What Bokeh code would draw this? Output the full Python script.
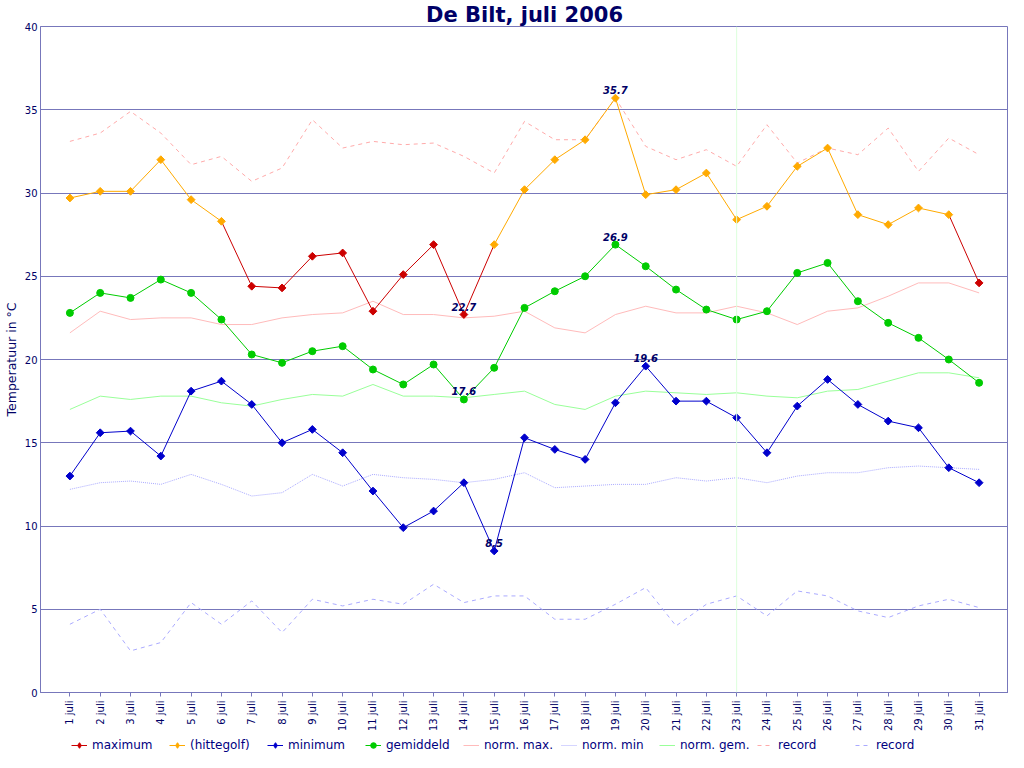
import math
from bokeh.plotting import figure
from bokeh.layouts import column
from bokeh.models import (FixedTicker, Legend, LegendItem, Span, Range1d)
from bokeh.core.properties import value
from bokeh.embed import file_html
from bokeh.resources import INLINE

# ---------------- data ----------------
days = list(range(1, 32))
day_labels = [f"{d} juli" for d in days]
tmax = [29.7, 30.1, 30.1, 32.0, 29.6, 28.3, 24.4, 24.3, 26.2, 26.4, 22.9, 25.1, 26.9, 22.7, 26.9,
        30.2, 32.0, 33.2, 35.7, 29.9, 30.2, 31.2, 28.4, 29.2, 31.6, 32.7, 28.7, 28.1, 29.1, 28.7, 24.6]
hittegolf = [True, True, True, True, True, True,
             False, False, False, False, False, False, False, False,
             True, True, True, True, True, True, True, True, True, True, True, True, True, True, True, True,
             False]
tmin = [13.0, 15.6, 15.7, 14.2, 18.1, 18.7, 17.3, 15.0, 15.8, 14.4, 12.1, 9.9, 10.9, 12.6, 8.5,
        15.3, 14.6, 14.0, 17.4, 19.6, 17.5, 17.5, 16.5, 14.4, 17.2, 18.8, 17.3, 16.3, 15.9, 13.5, 12.6]
tmean = [22.8, 24.0, 23.7, 24.8, 24.0, 22.4, 20.3, 19.8, 20.5, 20.8, 19.4, 18.5, 19.7, 17.6, 19.5,
         23.1, 24.1, 25.0, 26.9, 25.6, 24.2, 23.0, 22.4, 22.9, 25.2, 25.8, 23.5, 22.2, 21.3, 20.0, 18.6]
norm_max = [21.6, 22.9, 22.4, 22.5, 22.5, 22.1, 22.1, 22.5, 22.7, 22.8, 23.5, 22.7, 22.7, 22.5, 22.6,
            22.9, 21.9, 21.6, 22.7, 23.2, 22.8, 22.8, 23.2, 22.8, 22.1, 22.9, 23.1, 23.8, 24.6, 24.6, 24.0]
norm_min = [12.2, 12.6, 12.7, 12.5, 13.1, 12.5, 11.8, 12.0, 13.1, 12.4, 13.1, 12.9, 12.8, 12.6, 12.8,
            13.2, 12.3, 12.4, 12.5, 12.5, 12.9, 12.7, 12.9, 12.6, 13.0, 13.2, 13.2, 13.5, 13.6, 13.5, 13.4]
norm_mean = [17.0, 17.8, 17.6, 17.8, 17.8, 17.4, 17.2, 17.6, 17.9, 17.8, 18.5, 17.8, 17.8, 17.7, 17.9,
             18.1, 17.3, 17.0, 17.8, 18.1, 18.0, 17.9, 18.0, 17.8, 17.7, 18.1, 18.2, 18.7, 19.2, 19.2, 18.9]
rec_max = [33.1, 33.6, 34.9, 33.6, 31.7, 32.2, 30.7, 31.5, 34.4, 32.7, 33.1, 32.9, 33.0, 32.2, 31.2,
           34.3, 33.2, 33.2, 35.7, 32.8, 32.0, 32.6, 31.6, 34.1, 31.8, 32.7, 32.3, 33.9, 31.3, 33.3, 32.3]
rec_min = [4.1, 5.0, 2.5, 3.0, 5.4, 4.1, 5.5, 3.6, 5.6, 5.2, 5.6, 5.3, 6.5, 5.4, 5.8,
           5.8, 4.4, 4.4, 5.3, 6.3, 4.0, 5.3, 5.8, 4.6, 6.1, 5.8, 4.9, 4.5, 5.2, 5.6, 5.1]
today_marker = [23]
y_ticks = [0, 5, 10, 15, 20, 25, 30, 35, 40]

# ---------------- style ----------------
NAVY = "#000066"
AXIS = "#7777bb"
RED = "#cc0000"
ORANGE = "#ffaa00"
BLUE = "#0000cc"
GREEN = "#00cc00"
FONT = "DejaVu Sans"
REC_MAX_STYLE = dict(line_color="#ffaaaa", line_width=1, line_dash="4 4")
REC_MIN_STYLE = dict(line_color="#aaaaff", line_width=1, line_dash="4 4")
NMAX_STYLE = dict(line_color="#ffbbbb", line_width=1)
NMIN_STYLE = dict(line_color="#aaaaff", line_width=1, line_dash="1 1")
NMEAN_STYLE = dict(line_color="#99ff99", line_width=1)

p = figure(width=1008, height=734, output_backend="svg", toolbar_location=None,
           x_range=Range1d(0.03, 31.97), y_range=Range1d(0, 40),
           min_border_left=2, min_border_right=0, min_border_top=0, min_border_bottom=0)

p.title.text = "De Bilt, juli 2006"
p.title.align = "center"
p.title.text_font = FONT
p.title.text_font_size = "21px"
p.title.text_font_style = "bold"
p.title.text_color = NAVY
p.title.standoff = 0
p.title.offset = 0

p.background_fill_color = "white"
p.border_fill_color = "white"
p.outline_line_color = AXIS
p.outline_line_width = 1

p.xgrid.visible = False
p.ygrid.grid_line_color = AXIS
p.ygrid.grid_line_width = 1
p.ygrid.ticker = FixedTicker(ticks=y_ticks)

p.xaxis.ticker = FixedTicker(ticks=days)
p.xaxis.major_label_overrides = {d: lab for d, lab in zip(days, day_labels)}
p.xaxis.major_label_orientation = math.pi / 2
p.yaxis.ticker = FixedTicker(ticks=y_ticks)

for ax in (p.xaxis[0], p.yaxis[0]):
    ax.axis_line_color = AXIS
    ax.major_tick_line_color = AXIS
    ax.minor_tick_line_color = None
    ax.major_label_text_font = FONT
    ax.major_label_text_font_size = "10px"
    ax.major_label_text_color = NAVY
    ax.major_tick_in = 0
p.xaxis.major_tick_out = 4
p.xaxis.major_label_standoff = 4
p.yaxis.major_tick_out = 0
p.yaxis.major_label_standoff = 3
p.yaxis.axis_label = "Temperatuur in °C"
p.yaxis.axis_label_text_font = FONT
p.yaxis.axis_label_text_font_size = "12.5px"
p.yaxis.axis_label_text_font_style = "normal"
p.yaxis.axis_label_text_color = NAVY
p.yaxis.axis_label_standoff = 3

# faint vertical marker
for d in today_marker:
    p.add_layout(Span(location=d, dimension="height", line_color="#ddffdd", line_width=1))

# reference lines
p.line(days, rec_max, **REC_MAX_STYLE)
p.line(days, rec_min, **REC_MIN_STYLE)
p.line(days, norm_max, **NMAX_STYLE)
p.line(days, norm_min, **NMIN_STYLE)
p.line(days, norm_mean, **NMEAN_STYLE)

# maximum: segments coloured by heat-wave status
n = len(days)
seg_or = [i for i in range(n - 1) if hittegolf[i] and hittegolf[i + 1]]
seg_red = [i for i in range(n - 1) if not (hittegolf[i] and hittegolf[i + 1])]
p.segment(x0=[days[i] for i in seg_red], y0=[tmax[i] for i in seg_red],
          x1=[days[i + 1] for i in seg_red], y1=[tmax[i + 1] for i in seg_red],
          line_color=RED, line_width=1)
p.segment(x0=[days[i] for i in seg_or], y0=[tmax[i] for i in seg_or],
          x1=[days[i + 1] for i in seg_or], y1=[tmax[i + 1] for i in seg_or],
          line_color=ORANGE, line_width=1)
red_idx = [i for i in range(n) if not hittegolf[i]]
or_idx = [i for i in range(n) if hittegolf[i]]
p.scatter([days[i] for i in red_idx], [tmax[i] for i in red_idx], marker="square",
          angle=math.pi / 4, size=5.5, fill_color=RED, line_color=RED)
p.scatter([days[i] for i in or_idx], [tmax[i] for i in or_idx], marker="square",
          angle=math.pi / 4, size=5.5, fill_color=ORANGE, line_color=ORANGE)

# mean
p.line(days, tmean, line_color=GREEN, line_width=1)
p.scatter(days, tmean, marker="circle", size=7, fill_color=GREEN, line_color=GREEN)

# minimum
p.line(days, tmin, line_color=BLUE, line_width=1)
p.scatter(days, tmin, marker="square", angle=math.pi / 4, size=5.5,
          fill_color=BLUE, line_color=BLUE)

# extreme value labels
ann_x, ann_y, ann_t = [], [], []
for series in (tmax, tmean, tmin):
    for j in (series.index(max(series)), series.index(min(series))):
        ann_x.append(days[j])
        ann_y.append(series[j])
        ann_t.append(f"{series[j]:.1f}")
p.text(x=ann_x, y=ann_y, text=ann_t, text_font=value(FONT), text_font_size="10px",
       text_font_style="bold italic", text_color=NAVY, text_align="center",
       text_baseline="bottom", y_offset=-4)

# ---------------- legend strip ----------------
# the series are re-drawn here far outside this strip's ranges, so only the
# legend glyphs are visible
lf = figure(width=1008, height=18, output_backend="svg", toolbar_location=None,
            x_range=Range1d(100, 101), y_range=Range1d(100, 101),
            min_border_left=0, min_border_right=0, min_border_top=0, min_border_bottom=0)
lf.axis.visible = False
lf.grid.visible = False
lf.outline_line_color = None
lf.background_fill_color = "white"
lf.border_fill_color = "white"

l_max_l = lf.line(days, tmax, line_color=RED, line_width=1)
l_max_p = lf.scatter(days, tmax, marker="diamond", size=11, fill_color=RED, line_color=RED)
l_hg_l = lf.line(days, tmax, line_color=ORANGE, line_width=1)
l_hg_p = lf.scatter(days, tmax, marker="diamond", size=11, fill_color=ORANGE, line_color=ORANGE)
l_min_l = lf.line(days, tmin, line_color=BLUE, line_width=1)
l_min_p = lf.scatter(days, tmin, marker="diamond", size=11, fill_color=BLUE, line_color=BLUE)
l_mean_l = lf.line(days, tmean, line_color=GREEN, line_width=1)
l_mean_p = lf.scatter(days, tmean, marker="circle", size=8, fill_color=GREEN, line_color=GREEN)
l_nmax = lf.line(days, norm_max, **NMAX_STYLE)
l_nmin = lf.line(days, norm_min, **NMIN_STYLE)
l_nmean = lf.line(days, norm_mean, **NMEAN_STYLE)
l_rmax = lf.line(days, rec_max, **REC_MAX_STYLE)
l_rmin = lf.line(days, rec_min, **REC_MIN_STYLE)

legend = Legend(items=[
    LegendItem(label="maximum", renderers=[l_max_l, l_max_p]),
    LegendItem(label="(hittegolf)", renderers=[l_hg_l, l_hg_p]),
    LegendItem(label="minimum", renderers=[l_min_l, l_min_p]),
    LegendItem(label="gemiddeld", renderers=[l_mean_l, l_mean_p]),
    LegendItem(label="norm. max.", renderers=[l_nmax]),
    LegendItem(label="norm. min", renderers=[l_nmin]),
    LegendItem(label="norm. gem.", renderers=[l_nmean]),
    LegendItem(label="record", renderers=[l_rmax]),
    LegendItem(label="record", renderers=[l_rmin]),
], orientation="horizontal", location=(31, 0))
legend.label_text_font = FONT
legend.label_text_font_size = "12px"
legend.label_text_color = "#000080"
legend.border_line_color = None
legend.background_fill_alpha = 0
legend.glyph_width = 16
legend.glyph_height = 14
legend.label_height = 14
legend.label_width = 74
legend.label_standoff = 5
legend.spacing = 3
legend.padding = 1
legend.margin = 0
lf.add_layout(legend)

layout = column(p, lf, spacing=0)
open("out.html", "w").write(file_html(layout, INLINE))
